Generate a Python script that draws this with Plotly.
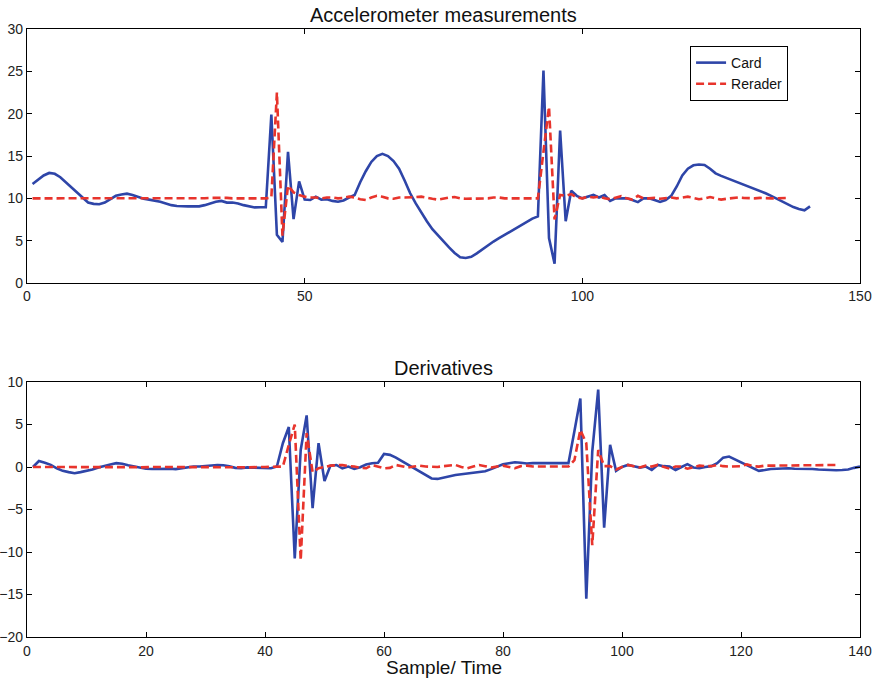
import plotly.graph_objects as go
from plotly.subplots import make_subplots

# ---- Accelerometer measurements (top) ----
card_x = list(range(1, 142))
card_acc = [
    11.7, 12.2, 12.7, 13.0, 12.9, 12.5, 11.9, 11.2, 10.6, 10.0,
    9.5, 9.35, 9.3, 9.5, 9.9, 10.3, 10.45, 10.55, 10.4, 10.2,
    9.95, 9.85, 9.75, 9.6, 9.4, 9.2, 9.1, 9.05, 9.05, 9.05,
    9.05, 9.2, 9.4, 9.6, 9.7, 9.5, 9.5, 9.4, 9.2, 9.05,
    8.93, 8.95, 8.95, 19.9, 5.7, 4.85, 15.5, 7.55, 12.0, 9.85,
    9.8, 10.2, 9.85, 9.9, 9.7, 9.6, 9.75, 10.1, 10.4, 11.9,
    13.2, 14.3, 15.0, 15.25, 15.0, 14.4, 13.5, 12.1, 10.6, 9.4,
    8.3, 7.3, 6.35, 5.6, 4.85, 4.2, 3.55, 3.05, 2.95, 3.1,
    3.5, 4.0, 4.5, 4.9, 5.3, 5.7, 6.1, 6.5, 6.9, 7.3,
    7.6, 7.87, 25.1, 5.3, 2.28, 18.0, 7.3, 10.9, 10.3, 10.0,
    10.2, 10.4, 10.1, 10.4, 9.7, 10.0, 10.0, 10.0, 9.8, 9.55,
    10.0, 10.0, 9.8, 9.57, 9.8, 10.3, 11.4, 12.7, 13.5, 13.9,
    14.0, 13.95, 13.5, 12.95, 12.65, 12.4, 12.15, 11.9, 11.6, 11.4,
    11.1, 10.85, 10.6, 10.3, 9.95, 9.65, 9.3, 8.97, 8.75, 8.58,
    9.05,
]

reader_x = list(range(1, 138))
reader_acc = [
    10.0, 10.0, 10.0, 9.98, 9.95, 9.97, 10.0, 10.0, 10.0, 10.0,
    10.0, 10.0, 10.0, 10.0, 10.0, 10.02, 10.03, 10.02, 10.0, 10.0,
    10.0, 10.0, 10.0, 10.0, 10.0, 10.0, 10.0, 10.0, 10.0, 10.0,
    10.0, 10.02, 10.05, 10.08, 10.1, 10.05, 10.0, 10.0, 10.0, 10.0,
    10.0, 10.0, 10.0, 10.1, 22.5, 5.6, 11.5, 10.7, 10.4, 10.2,
    10.1, 10.1, 10.0, 10.1, 10.1, 10.0, 10.05, 10.2, 10.1, 9.9,
    9.8, 10.1, 10.3, 10.2, 10.0, 9.95, 10.1, 10.1, 10.1, 10.15,
    10.2, 10.05, 9.95, 9.85, 10.0, 10.1, 10.15, 10.0, 9.95, 9.95,
    9.95, 9.95, 10.0, 10.1, 10.1, 10.0, 10.0, 10.0, 10.0, 10.0,
    10.0, 10.0, 15.5, 20.8, 7.5, 10.4, 10.3, 10.5, 10.1, 10.0,
    10.2, 10.1, 10.2, 10.0, 9.9, 10.1, 10.25, 10.0, 9.85, 10.3,
    10.0, 10.0, 10.05, 9.95, 10.0, 10.1, 10.0, 10.1, 10.2, 10.05,
    9.9, 10.0, 10.15, 10.0, 9.85, 9.95, 10.05, 10.1, 10.05, 10.0,
    10.0, 10.05, 10.0, 10.0, 10.0, 10.05, 10.05,
]

# ---- Derivatives (bottom) ----
card_dx = list(range(1, 141))
card_der = [
    0.0, 0.7, 0.5, 0.25, -0.15, -0.45, -0.6, -0.73, -0.6, -0.45,
    -0.3, -0.05, 0.15, 0.3, 0.45, 0.38, 0.2, 0.05, -0.1, -0.2,
    -0.23, -0.23, -0.15, -0.2, -0.25, -0.15, -0.05, 0.05, 0.05, 0.1,
    0.15, 0.24, 0.2, 0.1, -0.1, -0.15, -0.05, -0.07, -0.1, -0.15,
    -0.15, 0.05, 2.8, 4.7, -10.75, 2.0, 6.07, -4.85, 2.8, -1.64,
    0.16, 0.24, -0.15, 0.05, -0.23, -0.03, 0.3, 0.45, 0.5, 1.54,
    1.43, 1.1, 0.7, 0.3, -0.1, -0.6, -1.0, -1.35, -1.4, -1.25,
    -1.05, -0.95, -0.85, -0.75, -0.68, -0.6, -0.5, -0.25, 0.05, 0.33,
    0.45, 0.56, 0.5, 0.42, 0.45, 0.45, 0.42, 0.45, 0.45, 0.45,
    0.45, 4.2, 8.05, -15.5, 1.8, 9.1, -7.15, 2.6, -0.45, 0.0,
    0.24, 0.1, -0.07, 0.05, -0.35, 0.24, 0.1, 0.05, -0.35, 0.0,
    0.33, -0.05, -0.15, 0.0, 0.1, 0.45, 1.1, 1.23, 0.9, 0.5,
    0.16, -0.1, -0.45, -0.35, -0.23, -0.2, -0.15, -0.15, -0.2, -0.2,
    -0.2, -0.23, -0.3, -0.35, -0.35, -0.38, -0.35, -0.3, -0.1, 0.05,
]

reader_dx = list(range(1, 137))
reader_der = [
    0.0, 0.0, 0.0, 0.02, 0.0, -0.02, 0.0, 0.0, 0.0, 0.0,
    0.0, 0.0, 0.0, 0.02, 0.05, 0.02, 0.0, -0.02, -0.05, 0.0,
    0.0, 0.0, 0.0, 0.0, 0.0, 0.0, 0.0, 0.0, 0.0, 0.0,
    0.0, 0.02, 0.05, 0.02, 0.0, -0.03, -0.05, 0.0, 0.0, 0.0,
    0.0, 0.0, 0.05, 2.6, 5.0, -10.96, 4.0, -0.6, -0.15, 0.0,
    0.16, 0.2, 0.24, 0.1, 0.05, -0.1, -0.15, 0.24, 0.0, -0.15,
    -0.1, 0.24, 0.1, -0.07, 0.05, 0.16, 0.05, 0.0, 0.0, 0.1,
    0.2, 0.24, 0.0, -0.15, 0.05, 0.24, 0.1, -0.07, 0.05, 0.16,
    0.0, -0.15, 0.1, 0.16, 0.05, 0.05, 0.05, 0.05, 0.05, 0.05,
    0.05, 0.8, 4.37, 2.8, -9.2, 2.0, 0.1, 0.1, -0.3, 0.0,
    0.24, 0.1, -0.05, 0.16, 0.05, 0.24, 0.0, -0.2, 0.05, 0.05,
    -0.2, 0.0, 0.16, 0.1, 0.1, 0.24, 0.1, 0.05, 0.05, 0.1,
    0.3, 0.1, 0.05, 0.16, 0.16, 0.16, 0.16, 0.16, 0.16, 0.16,
    0.16, 0.16, 0.16, 0.16, 0.16, 0.24,
]

top_xticks = [0, 50, 100, 150]
top_yticks = [0, 5, 10, 15, 20, 25, 30]
bot_xticks = [0, 20, 40, 60, 80, 100, 120, 140]
bot_yticks = [-20, -15, -10, -5, 0, 5, 10]

BLUE = "#2e45a8"
RED = "#e8342c"
FONT = "Liberation Sans, Arial, sans-serif"

fig = make_subplots(rows=2, cols=1, vertical_spacing=0.0)

fig.add_trace(go.Scatter(x=card_x, y=card_acc, mode="lines", name="Card",
                         line=dict(color=BLUE, width=2.6)), row=1, col=1)
fig.add_trace(go.Scatter(x=reader_x, y=reader_acc, mode="lines", name="Rerader",
                         line=dict(color=RED, width=2.6, dash="8px,4px")), row=1, col=1)
fig.add_trace(go.Scatter(x=card_dx, y=card_der, mode="lines", name="Card",
                         showlegend=False, line=dict(color=BLUE, width=2.6)), row=2, col=1)
fig.add_trace(go.Scatter(x=reader_dx, y=reader_der, mode="lines", name="Rerader",
                         showlegend=False, line=dict(color=RED, width=2.6, dash="8px,4px")), row=2, col=1)

axis_common = dict(showline=True, linecolor="black", linewidth=1.2, mirror="ticks",
                   ticks="inside", ticklen=5, tickcolor="black", showgrid=False,
                   zeroline=False, automargin=False,
                   tickfont=dict(size=14, color="#222", family=FONT))

fig.update_xaxes(range=[0, 150], tickvals=top_xticks, domain=[0, 1], **axis_common, row=1, col=1)
fig.update_yaxes(range=[0, 30], tickvals=top_yticks, domain=[0.5822, 1.0], ticklabelstandoff=0,
                 **axis_common, row=1, col=1)
fig.update_xaxes(range=[0, 140], tickvals=bot_xticks, domain=[0, 1], ticklabelstandoff=1,
                 **axis_common, row=2, col=1)
fig.update_yaxes(range=[-20, 10], tickvals=bot_yticks, domain=[0.0, 0.4194], ticklabelstandoff=0,
                 **axis_common, row=2, col=1)

fig.update_layout(
    width=878, height=682,
    margin=dict(l=27, r=18, t=29, b=45, autoexpand=False),
    paper_bgcolor="white", plot_bgcolor="white",
    font=dict(family=FONT, color="#111"),
    showlegend=True,
    legend=dict(x=0.796, y=0.972, xanchor="left", yanchor="top",
                bgcolor="white", bordercolor="black", borderwidth=1,
                font=dict(size=14, family=FONT, color="#111"),
                tracegroupgap=0, itemwidth=30),
    annotations=[
        dict(text="Accelerometer measurements", x=0.5, y=1.0, xref="paper", yref="paper",
             xanchor="center", yanchor="bottom", yshift=1, showarrow=False,
             font=dict(size=20, family=FONT, color="#111")),
        dict(text="Derivatives", x=0.5, y=0.4194, xref="paper", yref="paper",
             xanchor="center", yanchor="bottom", yshift=1, showarrow=False,
             font=dict(size=20, family=FONT, color="#111")),
        dict(text="Sample/ Time", x=0.5, y=0.0, xref="paper", yref="paper",
             xanchor="center", yanchor="top", yshift=-18, showarrow=False,
             font=dict(size=19, family=FONT, color="#111")),
    ],
)

fig.write_html("out.html", config={"displayModeBar": False},
               post_script="document.body.style.margin='0';document.body.style.overflow='hidden';")
